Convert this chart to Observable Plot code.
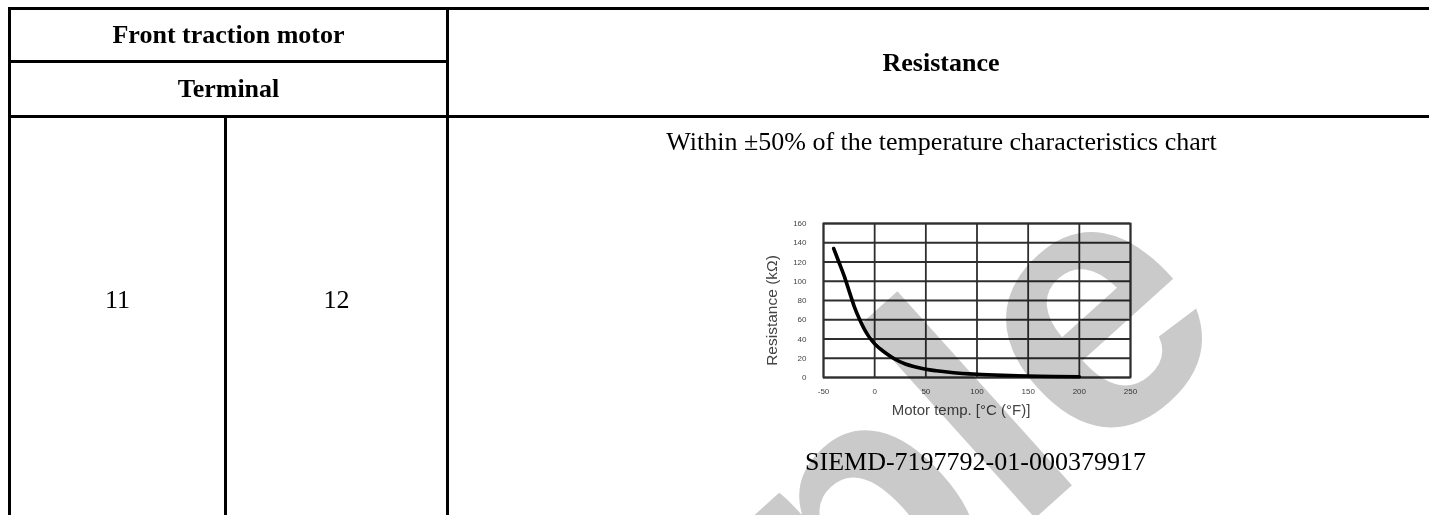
<!DOCTYPE html>
<html>
<head>
<meta charset="utf-8">
<script src="https://cdn.jsdelivr.net/npm/d3@7"></script>
<script src="https://cdn.jsdelivr.net/npm/@observablehq/plot@0.6"></script>
<style>
  html, body { margin: 0; padding: 0; background: #fff; overflow: hidden; }
  #page { position: relative; width: 1429px; height: 515px; overflow: hidden;
          font-family: "Liberation Serif", "Times New Roman", serif; color: #000; }
  .ln { position: absolute; background: #000; }
  .tx { position: absolute; white-space: nowrap; text-align: center; line-height: 30px; height: 30px; font-size: 26px; }
  .b { font-weight: bold; }
  #chart { position: absolute; left: 740px; top: 200px; }
  #wm { position: absolute; left: 0; top: 0; pointer-events: none; mix-blend-mode: multiply; }
</style>
</head>
<body>
<div id="page">
  <!-- table rules -->
  <div class="ln" style="left:8px;top:7px;width:1440px;height:3px"></div>
  <div class="ln" style="left:8px;top:60px;width:440px;height:3px"></div>
  <div class="ln" style="left:8px;top:115px;width:1440px;height:3px"></div>
  <div class="ln" style="left:8px;top:7px;width:3px;height:520px"></div>
  <div class="ln" style="left:224px;top:115px;width:3px;height:410px"></div>
  <div class="ln" style="left:446px;top:7px;width:3px;height:520px"></div>

  <div id="texts"></div>
  <div id="chart"></div>
  <svg id="wm" width="1429" height="515"></svg>
</div>
<script>
// ---- table text ----
const headerTop = ["Front traction motor", "Terminal"];
const headerRight = "Resistance";
const terminals = ["11", "12"];
const noteText = "Within \u00b150% of the temperature characteristics chart";
const figureId = "SIEMD-7197792-01-000379917";
const watermark = "Sample";

// ---- chart data ----
const tempC       = [-40, -35, -30, -25, -20, -15, -10, -5, 0, 10, 20, 30, 40, 50, 60, 75, 100, 125, 150, 175, 200];
const resistanceK = [134, 120, 106, 90, 74, 61, 50, 41.5, 35, 26, 19, 14, 11, 8.6, 7, 5.2, 3.3, 2.2, 1.5, 1.1, 0.8];
const xTicks = [-50, 0, 50, 100, 150, 200, 250];
const yTicks = [0, 20, 40, 60, 80, 100, 120, 140, 160];
const xLabel = "Motor temp. [\u00b0C (\u00b0F)]";
const yLabel = "Resistance (k\u03a9)";

// place table text (centres)
const texts = document.getElementById("texts");
function put(str, cx, cy, bold, w) {
  const d = document.createElement("div");
  d.className = "tx" + (bold ? " b" : "");
  d.textContent = str;
  d.style.width = w + "px";
  d.style.left = (cx - w / 2) + "px";
  d.style.top = (cy - 15) + "px";
  texts.appendChild(d);
}
put(headerTop[0], 228.5, 35, true, 400);
put(headerTop[1], 228.5, 89, true, 400);
put(headerRight, 941, 62.5, true, 600);
put(terminals[0], 117.5, 300, false, 200);
put(terminals[1], 336.5, 300, false, 200);
put(noteText, 941.5, 142, false, 900);
put(figureId, 975.5, 462, false, 600);

// ---- chart ----
const data = tempC.map((t, i) => ({t, r: resistanceK[i]}));
const gridStyle = {stroke: "#2e2e2e", strokeOpacity: 1, strokeWidth: 1.8};
const chart = Plot.plot({
  width: 420,
  height: 230,
  marginLeft: 83,
  marginTop: 23,
  marginRight: 30,
  marginBottom: 53,
  style: {background: "transparent", fontFamily: "'Liberation Sans', Arial, sans-serif", overflow: "visible"},
  x: {domain: [-50, 250]},
  y: {domain: [0, 160]},
  marks: [
    Plot.gridX(xTicks, gridStyle),
    Plot.gridY(yTicks, gridStyle),
    Plot.frame({stroke: "#2e2e2e", strokeWidth: 1.8}),
    Plot.axisX({ticks: xTicks, tickSize: 0, tickPadding: 11, tickFormat: d => String(d), fontSize: 8, color: "#444", label: null}),
    Plot.axisY({ticks: yTicks, tickSize: 0, tickPadding: 17, tickFormat: d => String(d), fontSize: 8, color: "#444", label: null}),
    Plot.line(data, {x: "t", y: "r", stroke: "#000", strokeWidth: 3.6, curve: "monotone-x"}),
    Plot.text([xLabel], {text: d => d, frameAnchor: "bottom", dx: -16, dy: 33, fontSize: 15, fill: "#444", textAnchor: "middle", lineAnchor: "middle"}),
    Plot.text([yLabel], {text: d => d, frameAnchor: "left", dx: -51, dy: 10, rotate: -90, fontSize: 15.5, fill: "#444", textAnchor: "middle", lineAnchor: "middle"})
  ]
});
document.getElementById("chart").appendChild(chart);

// ---- watermark ----
const wm = d3.select("#wm");
wm.append("text")
  .attr("x", 288).attr("y", 1191)
  .attr("transform", "rotate(-42 288 1191)")
  .attr("font-family", "'Liberation Sans', Arial, sans-serif")
  .attr("font-weight", "bold")
  .attr("font-size", 360)
  .attr("fill", "#cacaca")
  .text(watermark);
</script>
</body>
</html>
